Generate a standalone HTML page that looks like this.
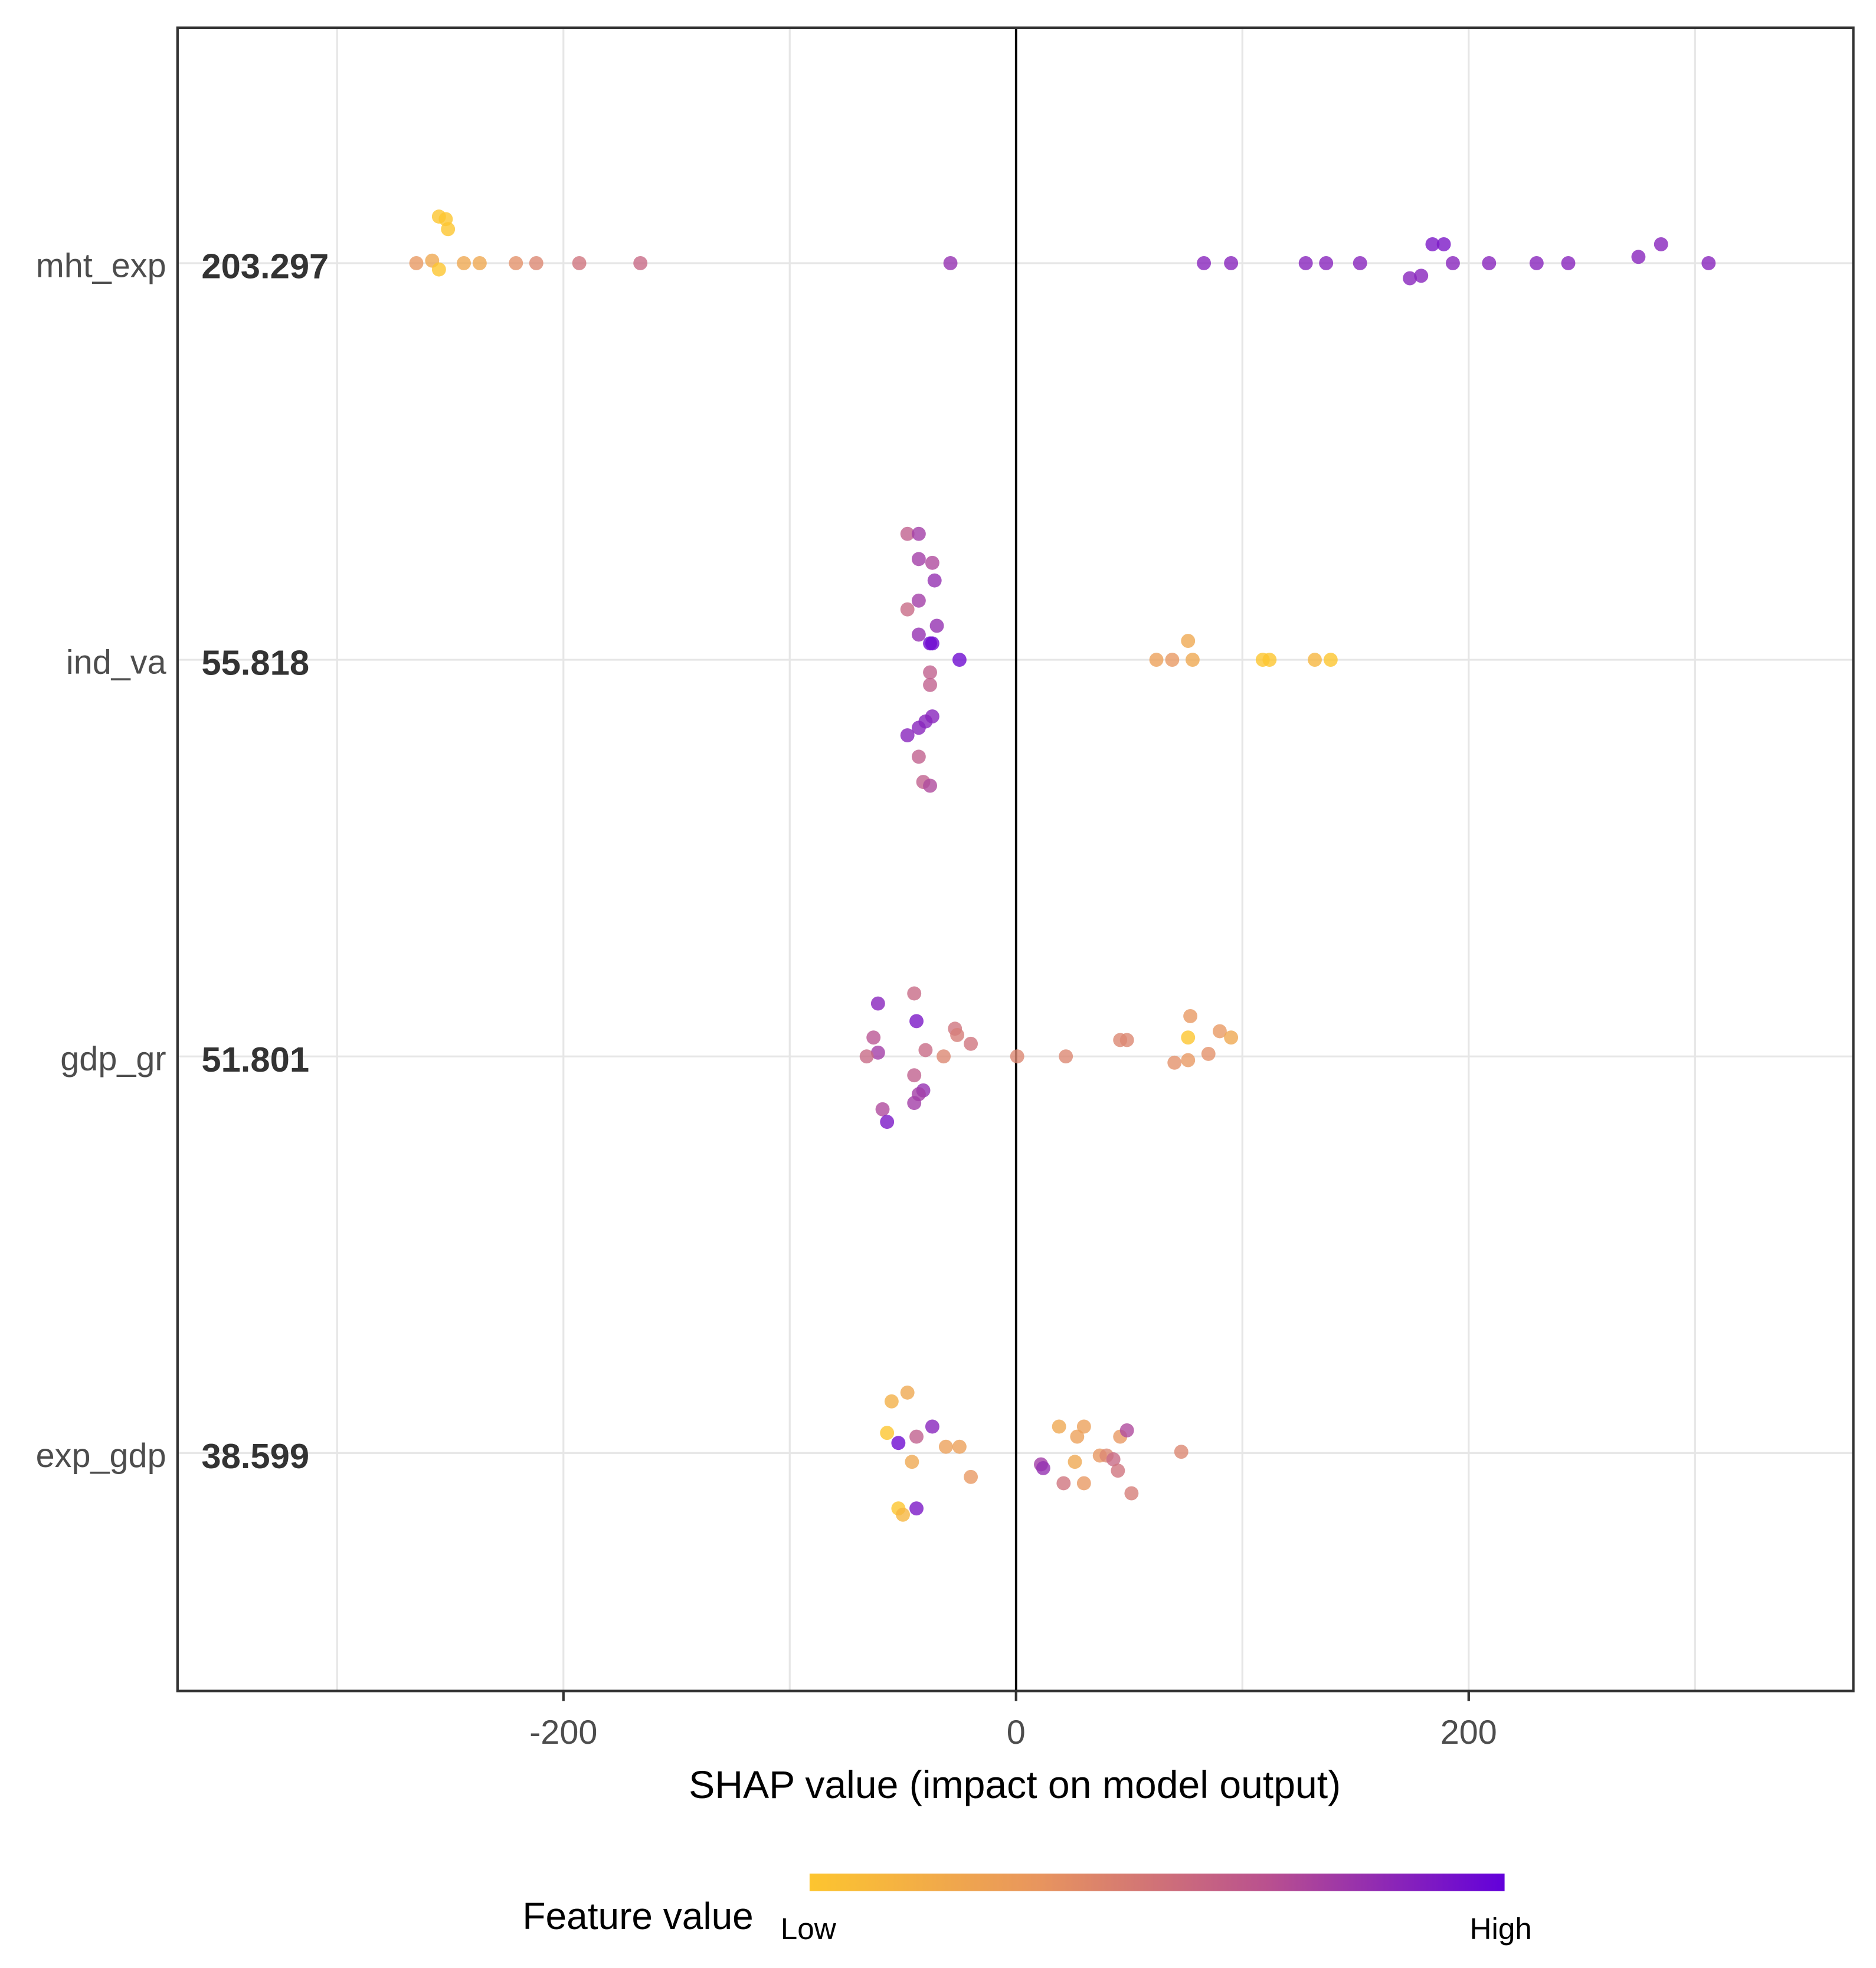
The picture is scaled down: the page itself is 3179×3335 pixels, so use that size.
<!DOCTYPE html>
<html><head><meta charset="utf-8">
<style>
html,body{margin:0;padding:0;background:#fff;}
svg{display:block;font-family:"Liberation Sans",Arial,sans-serif;}
</style></head>
<body>
<svg id="chart" width="3179" height="3335" viewBox="0 0 1490 1563" preserveAspectRatio="none" xmlns="http://www.w3.org/2000/svg">
<defs>
<linearGradient id="grad" x1="0" x2="1" y1="0" y2="0">
<stop offset="0" stop-color="#FDC52F"/>
<stop offset="0.33" stop-color="#E8955E"/>
<stop offset="0.66" stop-color="#B9508F"/>
<stop offset="1" stop-color="#6200DB"/>
</linearGradient>
</defs>
<rect x="0" y="0" width="1490" height="1563" fill="#fff"/>
<g id="grid"></g>
<g id="points"></g>
<rect x="141" y="22" width="1331" height="1321" fill="none" stroke="#333" stroke-width="2"/>
<g id="labels"></g>
<text x="806" y="1428" text-anchor="middle" font-size="31" fill="#000">SHAP value (impact on model output)</text>
<text x="415" y="1532" font-size="30" fill="#000">Feature value</text>
<rect x="643" y="1488" width="552" height="14" fill="url(#grad)"/>
<text x="642" y="1540" text-anchor="middle" font-size="24" fill="#000">Low</text>
<text x="1192" y="1540" text-anchor="middle" font-size="24" fill="#000">High</text>
</svg>
<script>
const features = ["mht_exp","ind_va","gdp_gr","exp_gdp"];
const importance = ["203.297","55.818","51.801","38.599"];
const xTicks = [-200, 0, 200];
const xGrid = [-300,-200,-100,0,100,200,300];

const shapMht = [-265,-258,-255,-252,-251,-255,-244,-237,-221,-212,-193,-166,-29,83,95,128,137,152,174,179,184,189,193,209,230,244,275,285,306];
const jitMht  = [0,-2,-37,-35,-27,5,0,0,0,0,0,0,0,0,0,0,0,0,12,10,-15,-15,0,0,0,0,-5,-15,0];
const valMht  = [0.3,0.2,0,0,0,0,0.2,0.2,0.35,0.4,0.5,0.55,0.8,0.85,0.85,0.85,0.85,0.85,0.85,0.85,0.9,0.9,0.85,0.85,0.85,0.85,0.85,0.85,0.85];

const shapInd = [-48,-43,-43,-37,-36,-43,-48,-35,-43,-38,-37,-25,-38,-38,-37,-40,-43,-48,-43,-41,-38,62,69,76,78,109,112,132,139];
const jitInd  = [-100,-100,-80,-77,-63,-47,-40,-27,-20,-13,-13,0,10,20,45,49,54,60,77,97,100,0,0,-15,0,0,0,0,0];
const valInd  = [0.6,0.75,0.75,0.7,0.8,0.75,0.55,0.8,0.8,0.95,0.95,0.95,0.6,0.6,0.85,0.85,0.85,0.85,0.6,0.6,0.7,0.25,0.3,0.2,0.2,0,0,0.1,0];

const shapGdp = [-61,-45,-44,-63,-61,-66,-40,-32,-27,-26,-20,-45,-41,-43,-45,-59,-57,0.5,22,46,49,77,76,70,76,85,90,95];
const jitGdp  = [-42,-50,-28,-15,-3,0,-5,0,-22,-17,-10,15,27,30,37,42,52,0,0,-13,-13,-32,-15,5,3,-2,-20,-15];
const valGdp  = [0.85,0.55,0.9,0.65,0.75,0.55,0.55,0.4,0.5,0.45,0.5,0.6,0.8,0.75,0.75,0.7,0.9,0.4,0.4,0.4,0.4,0.3,0,0.35,0.3,0.35,0.3,0.2];

const shapExp = [-55,-48,-57,-52,-44,-37,-46,-31,-25,-20,-52,-50,-44,19,30,27,26,11,12,37,40,43,45,46,49,21,30,51,73];
const jitExp  = [-41,-48,-16,-8,-13,-21,7,-5,-5,19,44,49,44,-21,-21,-13,7,9,12,2,2,5,14,-13,-18,24,24,32,-1];
const valExp  = [0.15,0.2,0,0.95,0.6,0.85,0.2,0.25,0.25,0.3,0,0.1,0.9,0.2,0.25,0.25,0.2,0.75,0.8,0.3,0.4,0.55,0.5,0.3,0.7,0.5,0.3,0.45,0.4];

const rowShap = [shapMht, shapInd, shapGdp, shapExp];
const rowJit = [jitMht, jitInd, jitGdp, jitExp];
const rowVal = [valMht, valInd, valGdp, valExp];

const NS = "http://www.w3.org/2000/svg";
const X0 = 807, XS = (1166-447)/400;
function xScale(v){ return X0 + v*XS; }
function yScale(i){ return 209 + i*315; }
const stops = [[0,[253,197,47]],[0.33,[230,150,105]],[0.66,[185,85,150]],[1,[98,0,219]]];
function color(t){
  for(let k=0;k<stops.length-1;k++){
    const a=stops[k], b=stops[k+1];
    if(t<=b[0]){
      const f=(t-a[0])/(b[0]-a[0]);
      const c=a[1].map((v,j)=>Math.round(v+(b[1][j]-v)*f));
      return "rgb("+c.join(",")+")";
    }
  }
  return "rgb(98,0,219)";
}
const grid=document.getElementById("grid");
xGrid.forEach(v=>{
  const l=document.createElementNS(NS,"line");
  l.setAttribute("x1",xScale(v));l.setAttribute("x2",xScale(v));
  l.setAttribute("y1",22);l.setAttribute("y2",1343);
  l.setAttribute("stroke","#e6e6e6");l.setAttribute("stroke-width","1.5");
  
  
  grid.appendChild(l);
});
features.forEach((f,i)=>{
  const l=document.createElementNS(NS,"line");
  l.setAttribute("x1",141);l.setAttribute("x2",1472);
  l.setAttribute("y1",yScale(i));l.setAttribute("y2",yScale(i));
  l.setAttribute("stroke","#e6e6e6");l.setAttribute("stroke-width","1.5");
  
  
  grid.appendChild(l);
});
const zl=document.createElementNS(NS,"line");
zl.setAttribute("x1",xScale(0));zl.setAttribute("x2",xScale(0));
zl.setAttribute("y1",22);zl.setAttribute("y2",1343);
zl.setAttribute("stroke","#000");zl.setAttribute("stroke-width","1.8");


grid.appendChild(zl);

const pts=document.getElementById("points");
rowShap.forEach((arr,i)=>{
  arr.forEach((v,k)=>{
    const c=document.createElementNS(NS,"circle");
    c.setAttribute("cx",xScale(v));
    c.setAttribute("cy",yScale(i)+rowJit[i][k]);
    c.setAttribute("r",5.6);
    c.setAttribute("fill",color(rowVal[i][k]));
    c.setAttribute("fill-opacity","0.8");
    
    
    pts.appendChild(c);
  });
});
const lab=document.getElementById("labels");
features.forEach((f,i)=>{
  const t=document.createElementNS(NS,"text");
  t.setAttribute("x",132);t.setAttribute("y",yScale(i)+11);
  t.setAttribute("text-anchor","end");t.setAttribute("font-size","27");t.setAttribute("fill","#4d4d4d");
  t.textContent=f;
  
  
  lab.appendChild(t);
  const n=document.createElementNS(NS,"text");
  n.setAttribute("x",160);n.setAttribute("y",yScale(i)+12);
  n.setAttribute("font-size","28");n.setAttribute("font-weight","bold");n.setAttribute("fill","#333");
  n.textContent=importance[i];
  
  
  lab.appendChild(n);
});
xTicks.forEach(v=>{
  const tk=document.createElementNS(NS,"line");
  tk.setAttribute("x1",xScale(v));tk.setAttribute("x2",xScale(v));
  tk.setAttribute("y1",1343);tk.setAttribute("y2",1351);
  tk.setAttribute("stroke","#333");tk.setAttribute("stroke-width","2");
  
  
  lab.appendChild(tk);
  const t=document.createElementNS(NS,"text");
  t.setAttribute("x",xScale(v));t.setAttribute("y",1385);
  t.setAttribute("text-anchor","middle");t.setAttribute("font-size","27");t.setAttribute("fill","#4d4d4d");
  t.textContent=v<0?"-"+Math.abs(v):String(v);
  
  
  lab.appendChild(t);
});
</script>
</body></html>
